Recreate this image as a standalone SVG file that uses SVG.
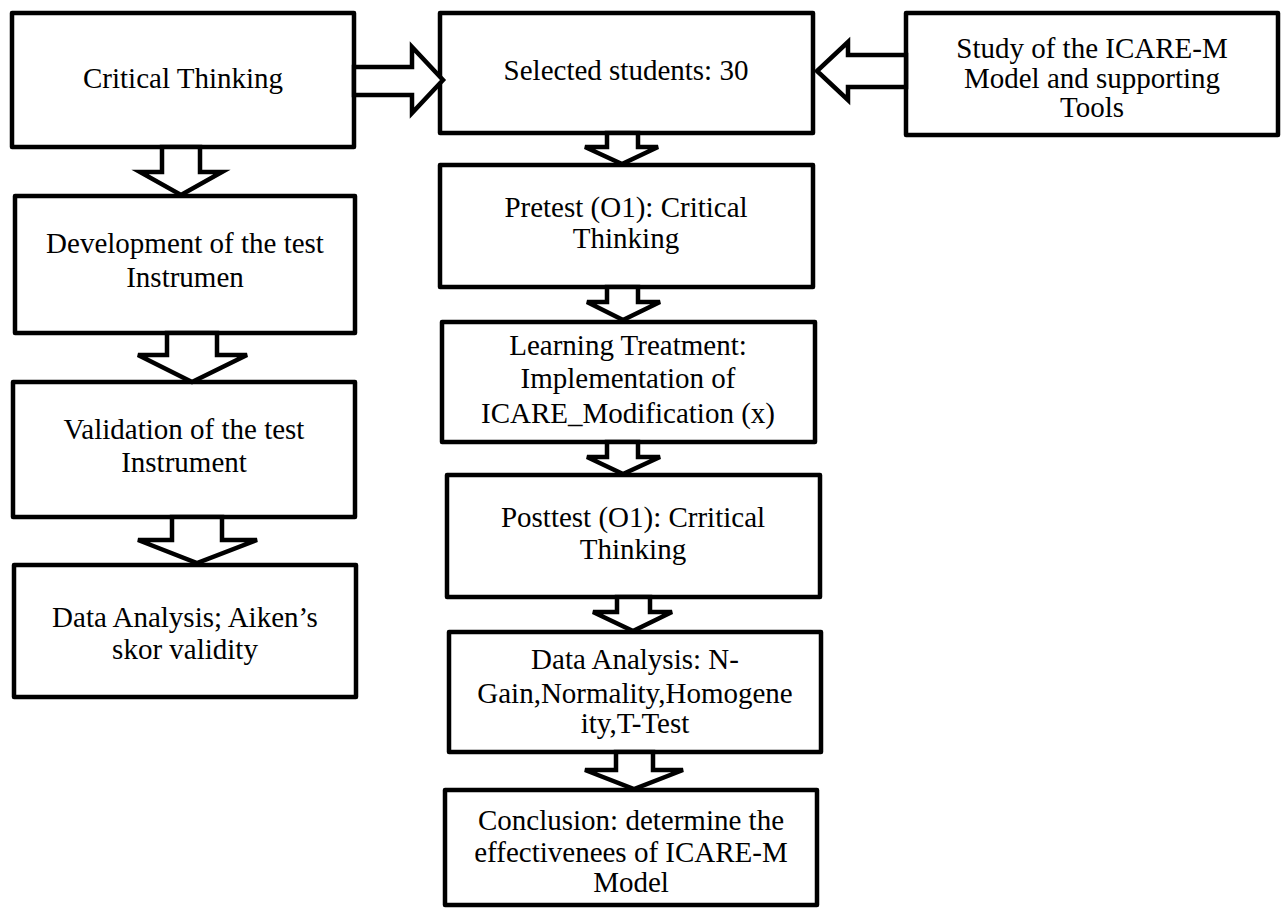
<svg xmlns="http://www.w3.org/2000/svg" width="1284" height="910" viewBox="0 0 1284 910">
<style>
.box{fill:#fff;stroke:#000;stroke-width:4.5;stroke-linejoin:round}
.arr{fill:#fff;stroke:#000;stroke-width:4.5;stroke-linejoin:miter}
text{font-family:"Liberation Serif","Times New Roman",serif;font-size:29px;fill:#000;text-anchor:middle}
</style>
<rect width="1284" height="910" fill="#fff"/>
<g id="n-critical"><rect class="box" x="12" y="13" width="342" height="134"/><text x="183" y="88">Critical Thinking</text></g>
<g id="n-selected"><rect class="box" x="440" y="13" width="373" height="120"/><text x="626" y="80">Selected students: 30</text></g>
<g id="n-study"><rect class="box" x="906" y="13" width="372" height="122"/><text x="1092" y="58">Study of the ICARE-M</text><text x="1092" y="88">Model and supporting</text><text x="1092" y="117">Tools</text></g>
<g id="n-development"><rect class="box" x="15" y="196" width="340" height="137"/><text x="185" y="253">Development of the test</text><text x="185" y="287">Instrumen</text></g>
<g id="n-validation"><rect class="box" x="13" y="382" width="342" height="135"/><text x="184" y="439">Validation of the test</text><text x="184" y="472">Instrument</text></g>
<g id="n-aiken"><rect class="box" x="14" y="565" width="342" height="132"/><text x="185" y="627">Data Analysis; Aiken’s</text><text x="185" y="659">skor validity</text></g>
<g id="n-pretest"><rect class="box" x="440" y="165" width="373" height="122"/><text x="626" y="217">Pretest (O1): Critical</text><text x="626" y="248">Thinking</text></g>
<g id="n-treatment"><rect class="box" x="442" y="322" width="373" height="120"/><text x="628" y="355">Learning Treatment:</text><text x="628" y="388">Implementation of</text><text x="628" y="423">ICARE_Modification (x)</text></g>
<g id="n-posttest"><rect class="box" x="447" y="475" width="373" height="122"/><text x="633" y="527">Posttest (O1): Crritical</text><text x="633" y="559">Thinking</text></g>
<g id="n-analysis"><rect class="box" x="449" y="632" width="372" height="120"/><text x="635" y="669">Data Analysis: N-</text><text x="635" y="703">Gain,Normality,Homogene</text><text x="635" y="733">ity,T-Test</text></g>
<g id="n-conclusion"><rect class="box" x="445" y="790" width="372" height="115"/><text x="631" y="830">Conclusion: determine the</text><text x="631" y="862">effectivenees of ICARE-M</text><text x="631" y="892">Model</text></g>
<g id="connectors">
<polygon class="arr" points="354,67 412,67 412,47 443,80 412,113 412,95 354,95"/>
<polygon class="arr" points="906,55 848,55 848,42 817,71 848,100 848,87 906,87"/>
<polygon class="arr" points="162,147 200,147 200,172 222,172 181,195 140,172 162,172"/>
<polygon class="arr" points="167,333 217,333 217,355 247,355 192,382 138,355 167,355"/>
<polygon class="arr" points="172,517 222,517 222,540 257,540 197,563 138,540 172,540"/>
<polygon class="arr" points="607,133 638,133 638,147 658,147 622,164 585,147 607,147"/>
<polygon class="arr" points="607,287 638,287 638,302 660,302 623,320 587,302 607,302"/>
<polygon class="arr" points="607,442 638,442 638,457 660,457 623,474 587,457 607,457"/>
<polygon class="arr" points="617,597 650,597 650,612 672,612 633,631 593,612 617,612"/>
<polygon class="arr" points="616,752 653,752 653,770 683,770 634,789 585,770 616,770"/>
</g>
</svg>
